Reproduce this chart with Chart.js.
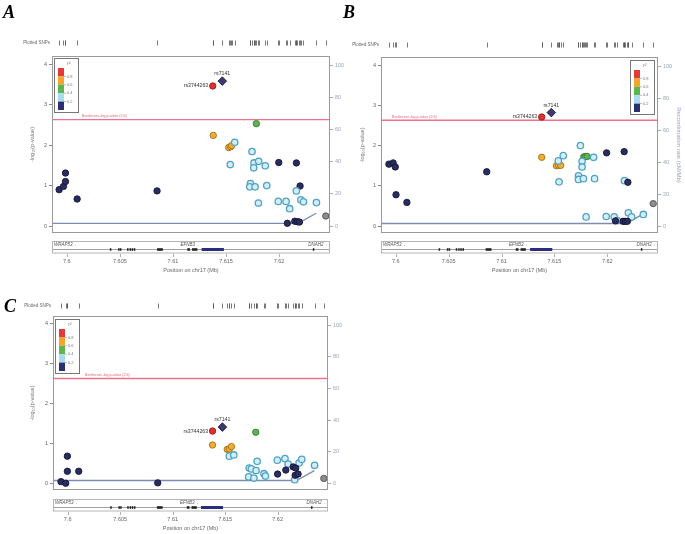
<!DOCTYPE html>
<html>
<head>
<meta charset="utf-8">
<script src="https://cdn.jsdelivr.net/npm/chart.js@4.4.1/dist/chart.umd.min.js"></script>
<style>
  body { margin: 0; background: #fff; width: 685px; height: 534px; position: relative; overflow: hidden; }
  .panel { position: absolute; }
  .panel canvas { display: block; }
  .tag { position: absolute; font: bold italic 18px "Liberation Serif", serif; line-height: 1; color: #000; }
</style>
</head>
<body>
<div class="panel" style="left:0;top:0"><canvas id="chartA" width="350" height="280"></canvas></div>
<div class="panel" style="left:340px;top:0"><canvas id="chartB" width="345" height="280"></canvas></div>
<div class="panel" style="left:0;top:280px"><canvas id="chartC" width="350" height="254"></canvas></div>
<div class="tag" style="left:3px;top:3px">A</div>
<div class="tag" style="left:343px;top:3px">B</div>
<div class="tag" style="left:4px;top:297px">C</div>
<script>
// axis ticks
const xTicks = [7.6, 7.605, 7.61, 7.615, 7.62];
const xTickLabels = ['7.6', '7.605', '7.61', '7.615', '7.62'];
const yTicks = [0, 1, 2, 3, 4];
const recombTicks = [0, 20, 40, 60, 80, 100];
const ldLevels = ['0.8', '0.6', '0.4', '0.2'];

// SNPs per panel: position (Mb), -log10(p), LD class
// LD class: 0 <0.2, 1 0.2-0.4, 2 0.4-0.6, 3 0.6-0.8, 4 >0.8, 5 index SNP, 6 no LD info
const posA = [7.59927, 7.59968, 7.59987, 7.59987, 7.60097, 7.6085, 7.61375, 7.61465, 7.61786,
  7.6138, 7.61525, 7.61544, 7.61554, 7.61582, 7.61745, 7.6154, 7.61764, 7.61808, 7.61761, 7.6187,
  7.61997, 7.62163, 7.6173, 7.61724, 7.61774, 7.61884, 7.62198, 7.62163, 7.61805, 7.61993, 7.62066,
  7.621, 7.62205, 7.6223, 7.62352, 7.62078, 7.62148, 7.62173, 7.62192, 7.6244];
const logpA = [0.90, 0.98, 1.10, 1.31, 0.67, 0.87, 3.46, 3.58, 2.53,
  2.24, 1.94, 1.96, 1.99, 2.07, 1.84, 1.52, 1.56, 1.60, 1.44, 1.49,
  1.57, 1.56, 1.05, 0.97, 0.97, 1.00, 0.99, 0.87, 0.57, 0.61, 0.61,
  0.43, 0.65, 0.60, 0.58, 0.07, 0.12, 0.11, 0.10, 0.25];
const ldA = [0, 0, 0, 0, 0, 0, 4, 5, 2,
  3, 3, 3, 3, 1, 1, 1, 1, 1, 1, 1,
  0, 0, 1, 1, 1, 1, 0, 1, 1, 1, 1,
  1, 1, 1, 1, 0, 0, 0, 0, 6];

const posB = [7.59935, 7.59975, 7.59995, 7.60002, 7.60105, 7.6086, 7.6138, 7.61471,
  7.6138, 7.6152, 7.6154, 7.6156, 7.61537, 7.61584, 7.61746, 7.61778, 7.61794, 7.6181,
  7.61762, 7.61871, 7.61762, 7.61728, 7.61728, 7.61775, 7.6188, 7.61544,
  7.61994, 7.6216, 7.62163, 7.62195, 7.62435,
  7.618, 7.6199, 7.62066, 7.622, 7.6223, 7.62341, 7.62095, 7.62078, 7.6215, 7.6217, 7.6219];
const logpB = [1.54, 1.57, 1.47, 0.78, 0.59, 1.35, 2.71, 2.82,
  1.71, 1.50, 1.51, 1.51, 1.62, 1.75, 2.00, 1.72, 1.73, 1.73,
  1.61, 1.71, 1.47, 1.25, 1.16, 1.18, 1.18, 1.10,
  1.82, 1.85, 1.13, 1.09, 0.56,
  0.23, 0.24, 0.23, 0.33, 0.23, 0.29, 0.14, 0.13, 0.12, 0.12, 0.12];
const ldB = [0, 0, 0, 0, 0, 0, 4, 5,
  3, 3, 3, 3, 1, 1, 1, 2, 2, 2,
  1, 1, 1, 1, 1, 1, 1, 1,
  0, 0, 1, 0, 6,
  1, 1, 1, 1, 1, 1, 1, 0, 0, 0, 0];

const posC = [7.59936, 7.59981, 7.59997, 7.59997, 7.60105, 7.60858, 7.6138, 7.61474, 7.61792,
  7.6138, 7.6152, 7.6154, 7.6156,
  7.6154, 7.61582, 7.61805, 7.6173, 7.6175, 7.61795, 7.61724, 7.61774, 7.6187, 7.61884,
  7.61997, 7.6207, 7.621, 7.62205, 7.6223, 7.62352, 7.62163,
  7.62, 7.62078, 7.62148, 7.62173, 7.62167, 7.62195, 7.6244];
const logpC = [0.04, 0.00, 0.68, 0.30, 0.30, 0.01, 1.31, 1.41, 1.28,
  0.96, 0.85, 0.86, 0.92,
  0.68, 0.71, 0.55, 0.38, 0.36, 0.32, 0.16, 0.13, 0.24, 0.18,
  0.58, 0.62, 0.48, 0.51, 0.60, 0.45, 0.09,
  0.23, 0.33, 0.41, 0.38, 0.20, 0.23, 0.12];
const ldC = [0, 0, 0, 0, 0, 0, 4, 5, 2,
  3, 3, 3, 3,
  1, 1, 1, 1, 1, 1, 1, 1, 1, 1,
  1, 1, 1, 1, 1, 1, 1,
  0, 0, 0, 0, 0, 0, 6];

// labelled SNPs (same index in every panel)
const labelIdx = [6, 7];
const labelNames = ['rs3744263', 'rs7141'];

// recombination rate (cM/Mb)
const recombPos = [7.5986, 7.6218, 7.6235];
const recombRate = [1.7, 1.7, 8.0];

const bonferroni = 2.63;
const thresholdLabel = 'Bonferroni -log p-value (2.6)';

// gene track
const geneNames = ['WRAP53', 'EFNB3', 'DNAH2'];
const geneStart = [7.5987, 7.6107, 7.62276];
const exonStart = [7.60405, 7.60483, 7.60500, 7.60567, 7.60590, 7.60610, 7.60630, 7.60850, 7.61135, 7.61180, 7.62318];
const exonEnd   = [7.60412, 7.60490, 7.60513, 7.60578, 7.60600, 7.60620, 7.60645, 7.60905, 7.61160, 7.61230, 7.62330];
const codingStart = 7.6127, codingEnd = 7.6148;

const xMin = 7.5986, xMax = 7.6248, yMin = -0.17, yMax = 4.2, recombScale = 25.2;

const ldFill = ['#282c5e', '#d3eef7', '#5db34f', '#f2ad33', '#dc3330', '#3f3872', '#8c8c8c'];
const ldEdge = ['#15173a', '#4fa2c4', '#3a7c30', '#a0701a', '#9c1e1c', '#1f1d3c', '#555555'];
const legendCols = ['#e23a3a', '#f4a52c', '#5cb54f', '#a8dbef', '#2b3170'];

Chart.defaults.font.family = '"Liberation Sans", Arial, sans-serif';
Chart.defaults.color = '#666';

const decor = {
  id: 'decor',
  afterDraw(chart, args, o) {
    const {ctx, chartArea: a, scales} = chart;
    const sx = scales.x, sy = scales.y;
    const ds = chart.data.datasets[0];
    ctx.save();

    // frame
    ctx.strokeStyle = '#9a9a9a';
    ctx.lineWidth = 1;
    ctx.strokeRect(a.left + 0.5, a.top + 0.5, a.right - a.left - 1, a.bottom - a.top - 1);

    // plotted SNPs strip
    const ry = a.top + o.snpRow;
    ctx.fillStyle = '#666';
    ctx.font = '4.5px "Liberation Sans"';
    ctx.textAlign = 'right';
    ctx.textBaseline = 'middle';
    ctx.fillText('Plotted SNPs', a.left - 2, ry);
    ctx.strokeStyle = '#555';
    ctx.lineWidth = 0.8;
    ds.data.forEach(d => {
      const px = Math.round(sx.getPixelForValue(d.x)) + 0.5;
      ctx.beginPath();
      ctx.moveTo(px, ry - 2.5);
      ctx.lineTo(px, ry + 2.5);
      ctx.stroke();
    });

    // threshold label
    const ty = sy.getPixelForValue(bonferroni);
    ctx.fillStyle = '#e0607c';
    ctx.font = '3.6px "Liberation Sans"';
    ctx.textAlign = 'left';
    ctx.textBaseline = 'bottom';
    ctx.fillText(thresholdLabel, a.left + o.thrDx, ty - 1.5);

    // SNP names
    const meta = chart.getDatasetMeta(0);
    const red = meta.data[labelIdx[0]], lead = meta.data[labelIdx[1]];
    ctx.fillStyle = '#333';
    ctx.font = '5.2px "Liberation Sans"';
    ctx.textAlign = 'right';
    ctx.textBaseline = 'middle';
    ctx.fillText(labelNames[0], red.x - 4.5, red.y);
    ctx.textAlign = 'center';
    ctx.textBaseline = 'bottom';
    ctx.fillText(labelNames[1], lead.x, lead.y - 4.5);

    // r2 legend
    const lw = 24, lh = 54;
    const lx = o.legendRight ? a.right - lw - 4 : a.left + 2;
    const ly = a.top + o.legendDy;
    ctx.fillStyle = '#fff';
    ctx.fillRect(lx, ly, lw, lh);
    ctx.strokeStyle = '#777';
    ctx.lineWidth = 1;
    ctx.strokeRect(lx + 0.5, ly + 0.5, lw, lh);
    const bx = lx + 4, by = ly + 10, bw = 6, seg = 8.4;
    legendCols.forEach((c, i) => {
      ctx.fillStyle = c;
      ctx.fillRect(bx, by + i * seg, bw, seg);
    });
    ctx.strokeStyle = '#888';
    ctx.lineWidth = 0.6;
    ctx.fillStyle = '#777';
    ctx.font = '4px "Liberation Sans"';
    ctx.textAlign = 'left';
    ctx.textBaseline = 'middle';
    ldLevels.forEach((t, i) => {
      const yy = by + (i + 1) * seg;
      ctx.beginPath();
      ctx.moveTo(bx + bw, yy);
      ctx.lineTo(bx + bw + 2, yy);
      ctx.stroke();
      ctx.fillText(t, bx + bw + 3, yy);
    });
    ctx.font = 'italic 5px "Liberation Sans"';
    ctx.fillText('r\u00b2', lx + lw / 2 + 1, ly + 5.5);

    // gene track
    const gt = a.bottom + o.geneTop, gh = 11.5;
    ctx.strokeStyle = '#b5b5b5';
    ctx.lineWidth = 1;
    ctx.strokeRect(a.left + 0.5, gt + 0.5, a.right - a.left - 1, gh);
    ctx.fillStyle = '#555';
    ctx.font = 'italic 4.5px "Liberation Sans"';
    ctx.textAlign = 'left';
    ctx.textBaseline = 'middle';
    geneNames.forEach((g, i) => {
      ctx.fillText(g + '\u2192', Math.max(a.left + 2, sx.getPixelForValue(geneStart[i])), gt + 4);
    });
    ctx.strokeStyle = '#888';
    ctx.lineWidth = 0.8;
    ctx.beginPath();
    ctx.moveTo(a.left + 1, gt + 8.5);
    ctx.lineTo(a.right - 1, gt + 8.5);
    ctx.stroke();
    ctx.fillStyle = '#222';
    exonStart.forEach((s, i) => {
      const x1 = sx.getPixelForValue(s), x2 = sx.getPixelForValue(exonEnd[i]);
      ctx.fillRect(x1, gt + 7.2, Math.max(1.5, x2 - x1), 2.6);
    });
    ctx.fillStyle = '#2d2d7d';
    const c1 = sx.getPixelForValue(codingStart), c2 = sx.getPixelForValue(codingEnd);
    ctx.fillRect(c1, gt + 7, c2 - c1, 3);

    // x tick marks under the gene track
    ctx.strokeStyle = '#999';
    ctx.lineWidth = 0.8;
    xTicks.forEach(v => {
      const px = Math.round(sx.getPixelForValue(v)) + 0.5;
      ctx.beginPath();
      ctx.moveTo(px, gt + gh + 1.5);
      ctx.lineTo(px, gt + gh + 4.5);
      ctx.stroke();
    });
    ctx.restore();
  }
};

function makePanel(id, pos, logp, ld, p) {
  return new Chart(document.getElementById(id), {
    type: 'scatter',
    data: {
      datasets: [
        {
          data: pos.map((x, i) => ({x: x, y: logp[i]})),
          yAxisID: 'y',
          order: 0,
          pointBackgroundColor: c => ldFill[ld[c.dataIndex]],
          pointBorderColor: c => ldEdge[ld[c.dataIndex]],
          pointBorderWidth: c => ld[c.dataIndex] === 1 ? 1.3 : 0.9,
          pointRadius: c => ld[c.dataIndex] === 5 ? 4.3 : 3.2,
          pointStyle: c => ld[c.dataIndex] === 5 ? 'rectRot' : 'circle'
        },
        {
          type: 'line',
          data: recombPos.map((x, i) => ({x: x, y: recombRate[i]})),
          yAxisID: 'y2',
          order: 1,
          borderColor: '#7d8cb3',
          borderWidth: 1.4,
          pointRadius: 0,
          tension: 0
        },
        {
          type: 'line',
          data: [{x: xMin, y: bonferroni}, {x: xMax, y: bonferroni}],
          yAxisID: 'y',
          order: 2,
          borderColor: '#f0708c',
          borderWidth: 1.3,
          pointRadius: 0
        }
      ]
    },
    options: {
      responsive: false,
      animation: false,
      events: [],
      layout: {autoPadding: false, padding: {top: p.top, left: 0, right: 0, bottom: 0}},
      plugins: {
        legend: {display: false},
        tooltip: {enabled: false},
        decor: p
      },
      scales: {
        x: {
          type: 'linear', min: xMin, max: xMax,
          afterBuildTicks: s => { s.ticks = xTicks.map(v => ({value: v})); },
          afterFit: s => { s.height = p.xH; },
          ticks: {callback: (v, i) => xTickLabels[i], padding: p.xTickPad, font: {size: 5.5}, color: '#666', maxRotation: 0, autoSkip: false},
          grid: {display: false, drawTicks: false},
          border: {display: false},
          title: {display: true, text: 'Position on chr17 (Mb)', font: {size: 5.5}, color: '#666', padding: {top: 0, bottom: p.xTitlePad}}
        },
        y: {
          position: 'left', min: yMin, max: yMax,
          afterBuildTicks: s => { s.ticks = yTicks.map(v => ({value: v})); },
          afterFit: s => { s.width = p.yW; },
          ticks: {font: {size: 5.5}, color: '#666', padding: 2},
          grid: {drawOnChartArea: false, tickLength: 3, color: '#888'},
          border: {display: false},
          title: {display: true, text: '-log\u2081\u2080(p-value)', font: {size: 5.5}, color: '#777', padding: {top: p.yTitlePad, bottom: 0}}
        },
        y2: {
          position: 'right', min: yMin * recombScale, max: yMax * recombScale,
          afterBuildTicks: s => { s.ticks = recombTicks.map(v => ({value: v})); },
          afterFit: s => { s.width = p.y2W; },
          ticks: {font: {size: 5.5}, color: '#9aa3bd', padding: 2},
          grid: {drawOnChartArea: false, tickLength: 3, color: '#aab'},
          border: {display: false},
          title: {display: p.y2Title, text: 'Recombination rate (cM/Mb)', font: {size: 6}, color: '#9ba2c0', padding: {top: 3, bottom: 0}}
        }
      }
    },
    plugins: [decor]
  });
}

makePanel('chartA', posA, logpA, ldA,
  {top: 56, yW: 52, y2W: 20, xH: 47, yTitlePad: 29, xTitlePad: 6, xTickPad: 25, y2Title: false,
   snpRow: -13, legendRight: false, legendDy: 2, thrDx: 30, geneTop: 8});
makePanel('chartB', posB, logpB, ldB,
  {top: 57, yW: 41, y2W: 27, xH: 47, yTitlePad: 19, xTitlePad: 6, xTickPad: 25, y2Title: true,
   snpRow: -12, legendRight: true, legendDy: 3, thrDx: 11, geneTop: 8});
makePanel('chartC', posC, logpC, ldC,
  {top: 36, yW: 53, y2W: 22, xH: 44, yTitlePad: 29, xTitlePad: 2, xTickPad: 26, y2Title: false,
   snpRow: -10, legendRight: false, legendDy: 3, thrDx: 32, geneTop: 9});
</script>
</body>
</html>
